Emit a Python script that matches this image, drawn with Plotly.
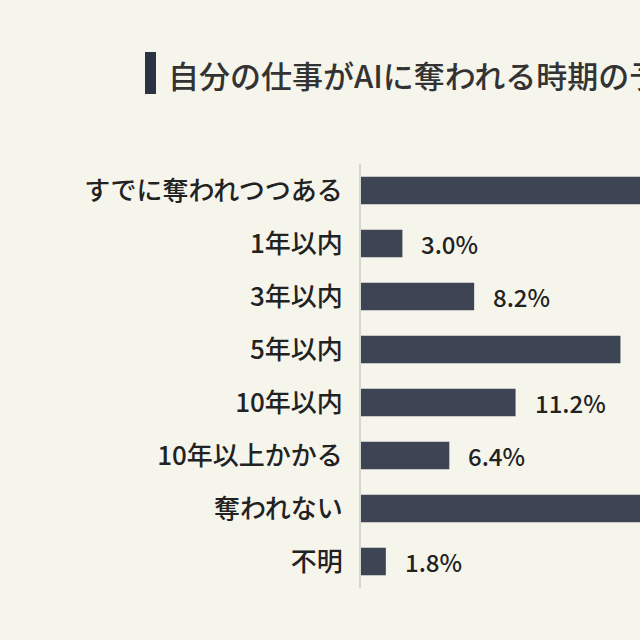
import plotly.graph_objects as go

categories = ["すでに奪われつつある", "1年以内", "3年以内", "5年以内", "10年以内",
              "10年以上かかる", "奪われない", "不明"]
values = [22.6, 3.0, 8.2, 18.8, 11.2, 6.4, 28.0, 1.8]
title_text = "自分の仕事がAIに奪われる時期の予想"

W, H = 640, 640
ML, MR, MT, MB = 361, 0, 164, 52
PX_PER_PCT = 13.8
xmax = (W - ML - MR) / PX_PER_PCT

BG = "#f6f5ec"
BAR = "#3d4454"
TXT = "#222222"
FONT = "Noto Sans CJK JP"

fig = go.Figure()
fig.add_trace(go.Bar(
    y=categories, x=values, orientation="h",
    marker=dict(color=BAR, line=dict(width=0)),
    cliponaxis=True, hoverinfo="skip",
))

for c, v in zip(categories, values):
    fig.add_annotation(
        x=v, y=c, xref="x", yref="y", text=f"{v:.1f}%",
        showarrow=False, xanchor="left", yanchor="middle", xshift=17,
        font=dict(family=FONT, size=24, color=TXT, weight=500),
    )

def px_x(p):
    return (p - ML) / (W - ML - MR)

def px_y(p):
    return 1 - (p - MT) / (H - MT - MB)

fig.add_shape(type="rect", xref="paper", yref="paper",
              x0=px_x(145), x1=px_x(156), y0=px_y(94), y1=px_y(52),
              fillcolor="#2b3242", line=dict(width=0))
fig.add_annotation(x=px_x(166), y=px_y(74), xref="paper", yref="paper",
                   text=title_text, showarrow=False, xanchor="left", yanchor="middle",
                   font=dict(family=FONT, size=31, color="#333333", weight=500))

fig.update_layout(
    width=W, height=H,
    margin=dict(l=ML, r=MR, t=MT, b=MB, pad=0),
    paper_bgcolor=BG, plot_bgcolor=BG,
    showlegend=False,
    bargap=0.48,
    font=dict(family=FONT, color=TXT),
    xaxis=dict(range=[0, xmax], showgrid=False, zeroline=False, showticklabels=False,
               showline=False, fixedrange=True),
    yaxis=dict(autorange="reversed", showgrid=False, zeroline=False,
               showline=True, linecolor="#d6d6d0", linewidth=2,
               ticks="", ticklabelstandoff=11, fixedrange=True,
               tickfont=dict(family=FONT, size=26, color=TXT, weight=500)),
)

fig.write_html("out.html", config={"displayModeBar": False},
               post_script="document.body.style.margin='0';")
